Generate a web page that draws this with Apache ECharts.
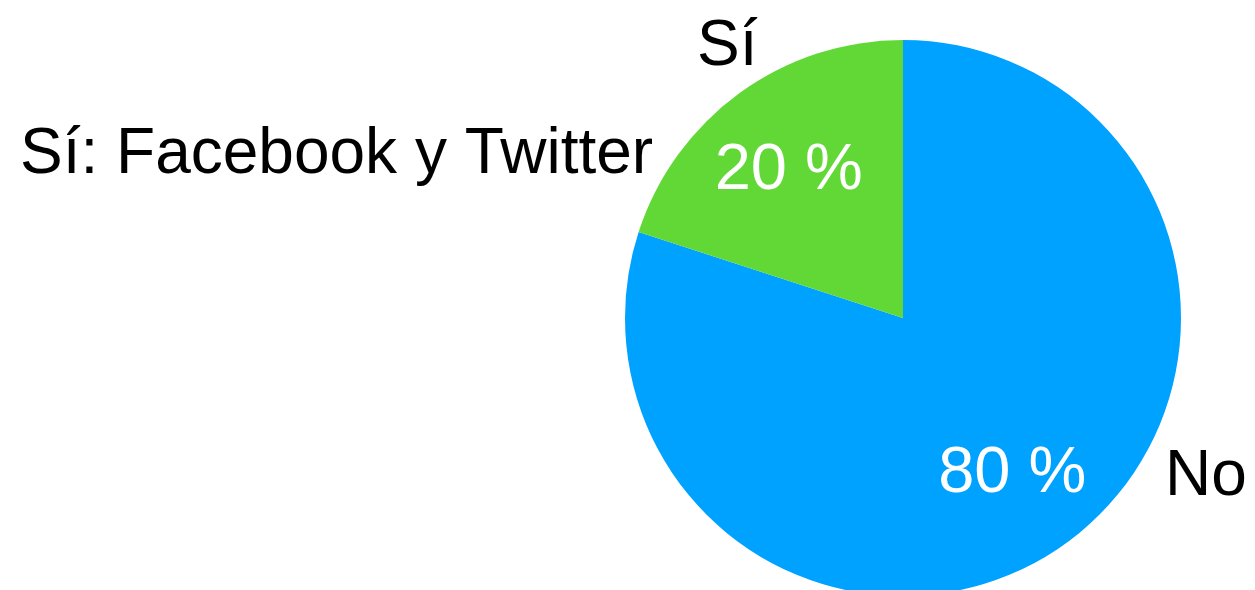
<!DOCTYPE html>
<html>
<head>
<meta charset="utf-8">
<script src="https://cdn.jsdelivr.net/npm/echarts@6/dist/echarts.min.js"></script>
<style>
  html, body { margin: 0; padding: 0; background: #fff; }
  #chart { width: 1255px; height: 590px; }
</style>
</head>
<body>
<div id="chart"></div>
<script>
// datos
var categories = ['No', 'Sí']
var values = [80, 20]
var colors = ['#00A2FF', '#61D836']
// etiquetas de nombre fuera del círculo
var nameLabels = ['No', 'Sí: Facebook y Twitter', 'Sí']

var FONT = '"Liberation Sans", Arial, sans-serif'

var myChart = echarts.init(document.getElementById('chart'))

var pieData = categories.map(function (c, i) {
  return { name: c, value: values[i], itemStyle: { color: colors[i] } }
})

// pequeño ajuste de posición de los porcentajes
var pctOffsets = [[-3, 2], [-2, 8]]

var option = {
  animation: false,
  backgroundColor: '#fff',
  graphic: [
    {
      type: 'text', left: 1165, top: 445,
      style: { text: nameLabels[0], font: '64px ' + FONT, fill: '#000' }
    },
    {
      type: 'text', left: 20, top: 123,
      style: { text: nameLabels[1], font: '64px ' + FONT, fill: '#000' }
    },
    {
      type: 'text', left: 697, top: 15,
      style: { text: nameLabels[2], font: '64px ' + FONT, fill: '#000' }
    }
  ],
  series: [
    {
      type: 'pie',
      center: [903, 318],
      radius: [0, 278],
      startAngle: 90,
      silent: true,
      label: { show: false },
      labelLine: { show: false },
      data: pieData
    },
    {
      // serie transparente sólo para los porcentajes
      type: 'pie',
      center: [903, 318],
      radius: [98, 278],
      startAngle: 90,
      silent: true,
      itemStyle: { color: 'transparent' },
      label: {
        show: true,
        position: 'inside',
        formatter: '{d} %',
        color: '#fff',
        fontSize: 65,
        fontFamily: FONT
      },
      labelLine: { show: false },
      data: categories.map(function (c, i) {
        return { name: c, value: values[i], label: { offset: pctOffsets[i] } }
      })
    }
  ]
}

myChart.setOption(option)
</script>
</body>
</html>
